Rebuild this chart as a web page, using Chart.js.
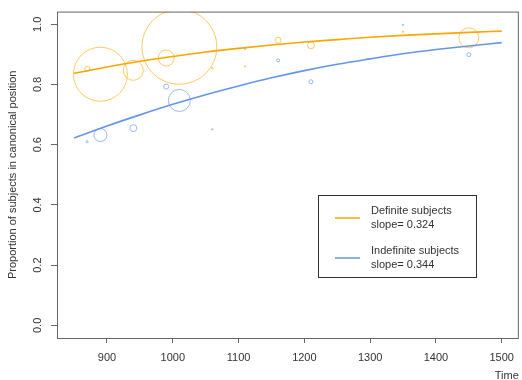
<!DOCTYPE html>
<html>
<head>
<meta charset="utf-8">
<title>Canonical position over time</title>
<style>
  html, body { margin: 0; padding: 0; background: #fff; }
  canvas { display: block; }
</style>
</head>
<body>
<canvas id="chart" width="522" height="380"></canvas>
<script src="https://cdn.jsdelivr.net/npm/chart.js"></script>
<script>
// observed texts: year, proportion canonical, circle size
const defYears = [870, 890, 940, 990, 1010, 1060, 1110, 1160, 1210, 1350, 1450];
const defProp  = [0.852, 0.834, 0.847, 0.888, 0.925, 0.854, 0.860, 0.947, 0.930, 0.975, 0.955];
const defSize  = [2.5, 27, 10, 8, 37.5, 0.7, 0.7, 3, 3.5, 0.7, 10];

const indYears = [870, 890, 940, 990, 1010, 1060, 1110, 1160, 1210, 1350, 1450];
const indProp  = [0.610, 0.632, 0.655, 0.793, 0.747, 0.651, 0.918, 0.880, 0.809, 0.998, 0.899];
const indSize  = [1, 6.5, 3.5, 2.5, 11, 0.7, 0.7, 1.5, 2, 0.7, 2];

const fitYears = [850, 900, 950, 1000, 1050, 1100, 1150, 1200, 1250, 1300, 1350, 1400, 1450, 1500];
const defFit = [0.837, 0.858, 0.877, 0.893, 0.908, 0.920, 0.931, 0.941, 0.949, 0.957, 0.963, 0.968, 0.973, 0.977];
const indFit = [0.622, 0.662, 0.699, 0.734, 0.766, 0.795, 0.822, 0.846, 0.867, 0.885, 0.902, 0.916, 0.928, 0.939];

const legendLabels = [['Definite subjects', 'slope= 0.324'], ['Indefinite subjects', 'slope= 0.344']];

const xTicks = [900, 1000, 1100, 1200, 1300, 1400, 1500];
const yTicks = [0, 0.2, 0.4, 0.6, 0.8, 1.0];

const ORANGE = '#FFA500';
const BLUE = '#6495ED';
const FONT = 'Liberation Sans, Arial, sans-serif';
const TEXT = '#333';

// box around the plot + legend
const framePlugin = {
  id: 'frame',
  afterDraw(chart) {
    const ctx = chart.ctx;
    const a = chart.chartArea;
    ctx.save();
    ctx.strokeStyle = '#666';
    ctx.lineWidth = 1;
    ctx.strokeRect(a.left + 0.5, a.top + 0.5, a.right - a.left - 1, a.bottom - a.top);

    // legend
    ctx.strokeStyle = '#333';
    ctx.strokeRect(318.5, 195.5, 158, 82);
    ctx.font = '11px ' + FONT;
    ctx.fillStyle = TEXT;
    ctx.textBaseline = 'middle';
    ctx.textAlign = 'left';
    const cols = [ORANGE, BLUE];
    const lineY = [218, 258];
    legendLabels.forEach((lab, i) => {
      ctx.strokeStyle = cols[i];
      ctx.lineWidth = 1.5;
      ctx.beginPath();
      ctx.moveTo(335, lineY[i]);
      ctx.lineTo(360, lineY[i]);
      ctx.stroke();
      ctx.fillText(lab[0], 371, lineY[i] - 7);
      ctx.fillText(lab[1], 371, lineY[i] + 7);
    });
    ctx.restore();
  }
};

function pts(xs, ys, rs) {
  return xs.map((x, i) => rs ? {x: x, y: ys[i], r: rs[i]} : {x: x, y: ys[i]});
}

new Chart(document.getElementById('chart'), {
  type: 'bubble',
  data: {
    datasets: [
      {
        type: 'line',
        label: 'Definite fit',
        data: pts(fitYears, defFit),
        borderColor: ORANGE,
        borderWidth: 1.6,
        pointRadius: 0,
        fill: false,
        cubicInterpolationMode: 'monotone'
      },
      {
        type: 'line',
        label: 'Indefinite fit',
        data: pts(fitYears, indFit),
        borderColor: BLUE,
        borderWidth: 1.6,
        pointRadius: 0,
        fill: false,
        cubicInterpolationMode: 'monotone'
      },
      {
        label: 'Definite subjects',
        data: pts(defYears, defProp, defSize),
        borderColor: 'rgba(255,165,0,0.6)',
        backgroundColor: 'rgba(0,0,0,0)',
        borderWidth: 1
      },
      {
        label: 'Indefinite subjects',
        data: pts(indYears, indProp, indSize),
        borderColor: 'rgba(100,149,237,0.65)',
        backgroundColor: 'rgba(0,0,0,0)',
        borderWidth: 1
      }
    ]
  },
  options: {
    responsive: false,
    animation: false,
    layout: { autoPadding: false, padding: { left: 0, right: 1, top: 5, bottom: 0 } },
    plugins: { legend: { display: false }, tooltip: { enabled: false } },
    scales: {
      x: {
        type: 'linear',
        min: 824,
        max: 1526,
        afterBuildTicks: s => { s.ticks = xTicks.map(v => ({value: v})); },
        afterFit: s => { s.height = 42; },
        grid: { drawOnChartArea: false, tickLength: 5, color: '#666' },
        border: { display: false },
        ticks: {
          maxRotation: 0,
          padding: 8,
          color: TEXT,
          font: { family: FONT, size: 11 },
          callback: v => String(v)
        },
        title: {
          display: true,
          text: 'Time',
          align: 'end',
          color: TEXT,
          padding: 0,
          font: { family: FONT, size: 11, lineHeight: 0.7 }
        }
      },
      y: {
        min: -0.042,
        max: 1.042,
        afterBuildTicks: s => { s.ticks = yTicks.map(v => ({value: v})); },
        afterFit: s => { s.width = 57; },
        grid: { drawOnChartArea: false, tickLength: 6, color: '#666' },
        border: { display: false },
        ticks: {
          minRotation: 90,
          maxRotation: 90,
          crossAlign: 'center',
          padding: 5,
          color: TEXT,
          font: { family: FONT, size: 11 },
          callback: v => v.toFixed(1)
        },
        title: {
          display: true,
          text: 'Proportion of subjects in canonical position',
          color: TEXT,
          padding: { top: 6, bottom: 0 },
          font: { family: FONT, size: 11 }
        }
      }
    }
  },
  plugins: [framePlugin]
});
</script>
</body>
</html>
